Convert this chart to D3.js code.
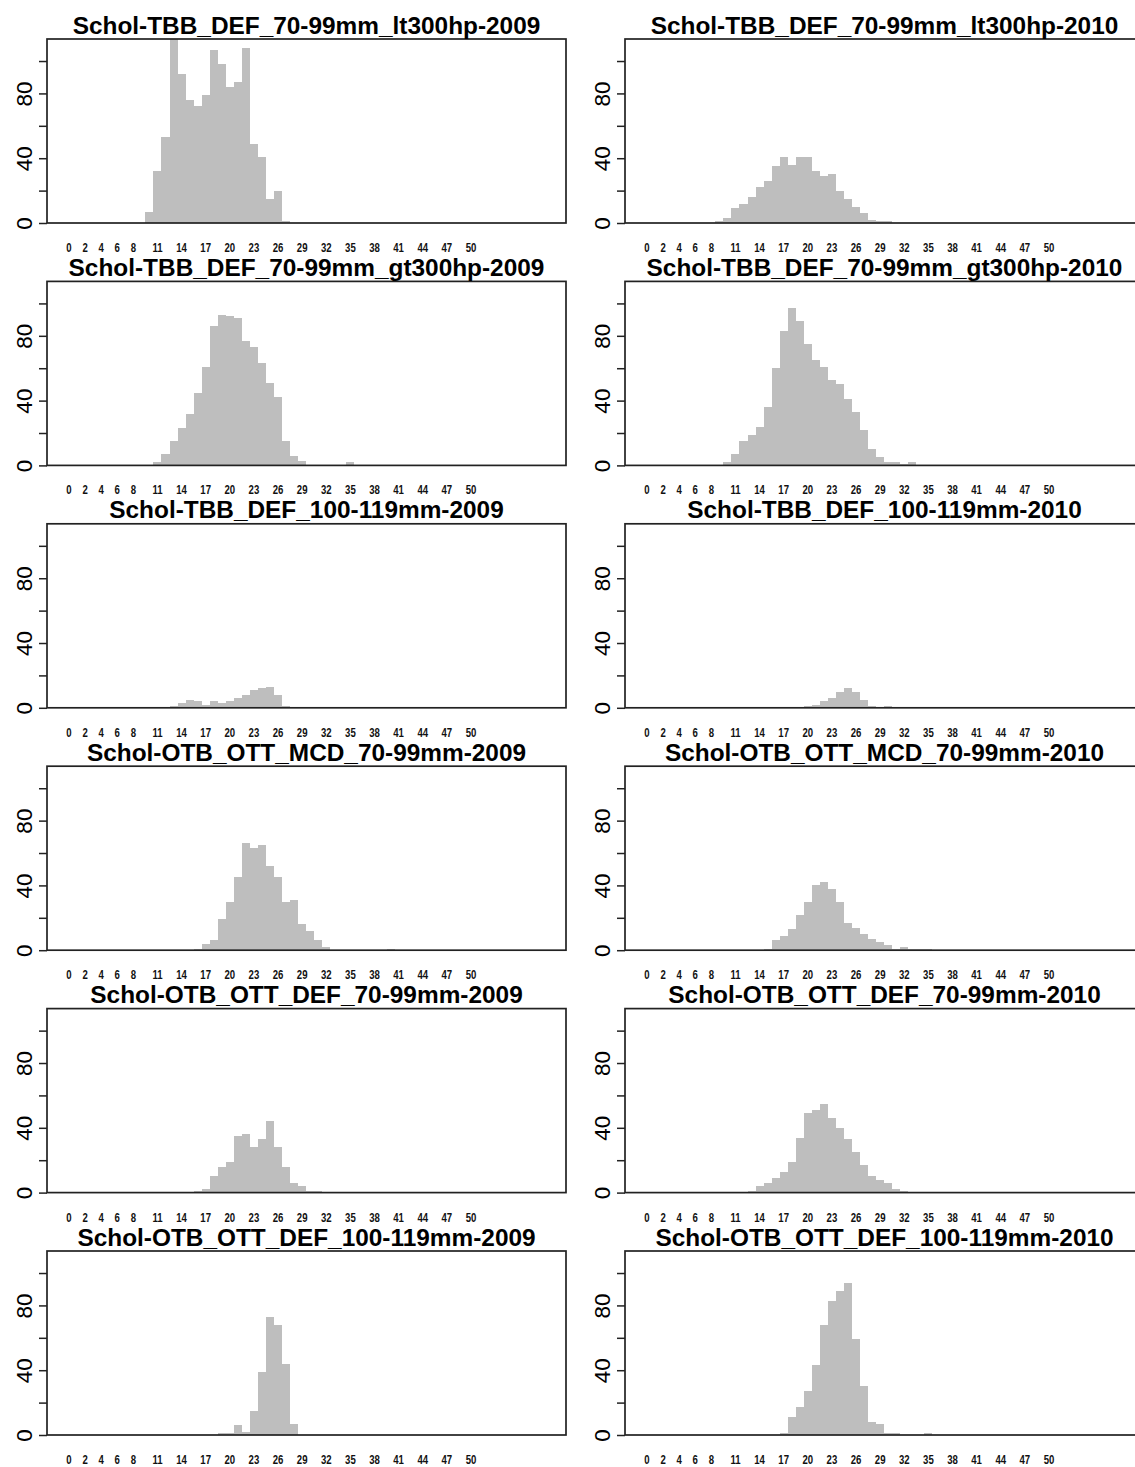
<!DOCTYPE html>
<html>
<head>
<meta charset="utf-8">
<script src="https://cdn.jsdelivr.net/npm/d3@7"></script>
<style>
  html, body { margin: 0; padding: 0; background: #fff; }
  svg { display: block; }
</style>
</head>
<body>
<svg id="chart" width="1135" height="1467"></svg>
<script>
// Length-frequency histograms, one-cm bins (count per length class).
// Each series: counts for consecutive length classes starting at the given class.
const titles = [
  "Schol-TBB_DEF_70-99mm_lt300hp-2009", "Schol-TBB_DEF_70-99mm_lt300hp-2010",
  "Schol-TBB_DEF_70-99mm_gt300hp-2009", "Schol-TBB_DEF_70-99mm_gt300hp-2010",
  "Schol-TBB_DEF_100-119mm-2009",       "Schol-TBB_DEF_100-119mm-2010",
  "Schol-OTB_OTT_MCD_70-99mm-2009",     "Schol-OTB_OTT_MCD_70-99mm-2010",
  "Schol-OTB_OTT_DEF_70-99mm-2009",     "Schol-OTB_OTT_DEF_70-99mm-2010",
  "Schol-OTB_OTT_DEF_100-119mm-2009",   "Schol-OTB_OTT_DEF_100-119mm-2010"
];

const firstClass = [10, 9, 11, 10, 13, 20, 16, 15, 16, 13, 19, 17];

const tbbLt300_2009 = [7, 32, 53, 116, 92, 76, 72, 79, 107, 98, 84, 87, 108, 49, 41, 15, 20, 1];
const tbbLt300_2010 = [1, 3, 9, 12, 16, 22, 26, 35, 41, 36, 41, 41, 32, 29, 30, 20, 15, 10, 6, 2, 1, 1];
const tbbGt300_2009 = [2, 7, 15, 23, 32, 45, 61, 86, 93, 92, 91, 77, 73, 63, 51, 42, 15, 6, 3, 0, 0, 0, 0, 0, 2];
const tbbGt300_2010 = [2, 7, 15, 19, 24, 36, 60, 83, 97, 89, 75, 65, 61, 53, 50, 41, 33, 22, 10, 5, 2, 2, 1, 2];
const tbb100_2009   = [1, 3, 5, 4, 2, 4, 3, 4, 6, 8, 11, 12, 13, 8, 1];
const tbb100_2010   = [1, 2, 4, 6, 10, 12, 10, 5, 1, 0, 1];
const ottMcd_2009   = [1, 4, 6, 19, 30, 45, 66, 63, 65, 52, 45, 30, 31, 16, 12, 6, 2, 0, 0, 0, 0, 0, 0, 0, 1];
const ottMcd_2010   = [1, 6, 9, 13, 22, 30, 40, 42, 38, 30, 17, 14, 10, 7, 5, 3, 1, 2, 1, 1, 1];
const ottDef_2009   = [1, 2, 10, 16, 19, 35, 36, 28, 33, 44, 28, 16, 6, 4, 1, 1];
const ottDef_2010   = [1, 4, 6, 9, 13, 19, 34, 49, 51, 55, 46, 40, 33, 25, 17, 10, 8, 6, 2, 1];
const ottDef100_2009 = [1, 1, 6, 2, 15, 39, 73, 68, 44, 7];
const ottDef100_2010 = [1, 11, 17, 27, 43, 68, 83, 89, 94, 59, 30, 8, 7, 1, 1, 0, 0, 0, 1];

const seriesCounts = [
  tbbLt300_2009, tbbLt300_2010, tbbGt300_2009, tbbGt300_2010,
  tbb100_2009, tbb100_2010, ottMcd_2009, ottMcd_2010,
  ottDef_2009, ottDef_2010, ottDef100_2009, ottDef100_2010
];

const xLabels = [0, 2, 4, 6, 8, 11, 14, 17, 20, 23, 26, 29, 32, 35, 38, 41, 44, 47, 50];
const yTicks = [0, 20, 40, 60, 80, 100];
const yLabels = [0, 40, 80];

// ---- layout ----
const panelW = 519, panelH = 184;
const colLeft = [47, 625];
const rowTop0 = 39, rowStep = 242.4;

const x = d3.scaleLinear().domain([-2.74, 61.82]).range([0, panelW]);
const y = d3.scaleLinear().domain([0, 113.6]).range([panelH, 0]);

const svg = d3.select("#chart");
svg.append("rect").attr("width", 1135).attr("height", 1467).attr("fill", "#fff");

const defs = svg.append("defs");
defs.append("clipPath").attr("id", "plotClip")
  .append("rect").attr("x", 0).attr("y", 0).attr("width", panelW).attr("height", panelH);

seriesCounts.forEach((counts, i) => {
  const row = Math.floor(i / 2), col = i % 2;
  const left = colLeft[col];
  const top = rowTop0 + row * rowStep;
  const bins = counts.map((n, k) => ({ len: firstClass[i] + k, n }));

  const g = svg.append("g").attr("transform", `translate(${left},${top})`);

  // bars
  g.append("g").attr("clip-path", "url(#plotClip)")
    .selectAll("rect").data(bins.filter(d => d.n > 0)).join("rect")
    .attr("x", d => x(d.len - 0.5))
    .attr("width", d => x(d.len + 0.5) - x(d.len - 0.5))
    .attr("y", d => y(d.n))
    .attr("height", d => y(0) - y(d.n))
    .attr("fill", "#bebebe")
    .attr("shape-rendering", "crispEdges");

  // frame
  g.append("rect")
    .attr("x", 0).attr("y", 0).attr("width", panelW).attr("height", panelH)
    .attr("fill", "none").attr("stroke", "#222").attr("stroke-width", 1.7);

  // y axis
  const yAxis = d3.axisLeft(y).tickValues(yTicks).tickSize(8).tickPadding(0)
    .tickFormat(d => yLabels.includes(d) ? d : "");
  const ya = g.append("g").call(yAxis);
  ya.select(".domain").remove();
  ya.selectAll(".tick line").attr("stroke", "#222").attr("stroke-width", 1.5);
  ya.selectAll(".tick text")
    .attr("transform", "rotate(-90)")
    .attr("x", 0).attr("y", -15).attr("dy", 0)
    .attr("text-anchor", "middle")
    .attr("font-family", "'Liberation Sans', Arial, sans-serif")
    .attr("font-size", 22.5)
    .attr("fill", "#000");

  // x labels
  g.append("g").selectAll("text").data(xLabels).join("text")
    .attr("transform", d => `translate(${x(d)},${panelH + 29}) scale(0.8,1)`)
    .attr("text-anchor", "middle")
    .attr("font-family", "'Liberation Sans', Arial, sans-serif")
    .attr("font-weight", "bold")
    .attr("font-size", 12)
    .attr("fill", "#111")
    .text(d => d);

  // title
  g.append("text")
    .attr("x", panelW / 2).attr("y", -5.5)
    .attr("text-anchor", "middle")
    .attr("font-family", "'Liberation Sans', Arial, sans-serif")
    .attr("font-weight", "bold")
    .attr("font-size", 24.4)
    .attr("fill", "#000")
    .text(titles[i]);
});
</script>
</body>
</html>
